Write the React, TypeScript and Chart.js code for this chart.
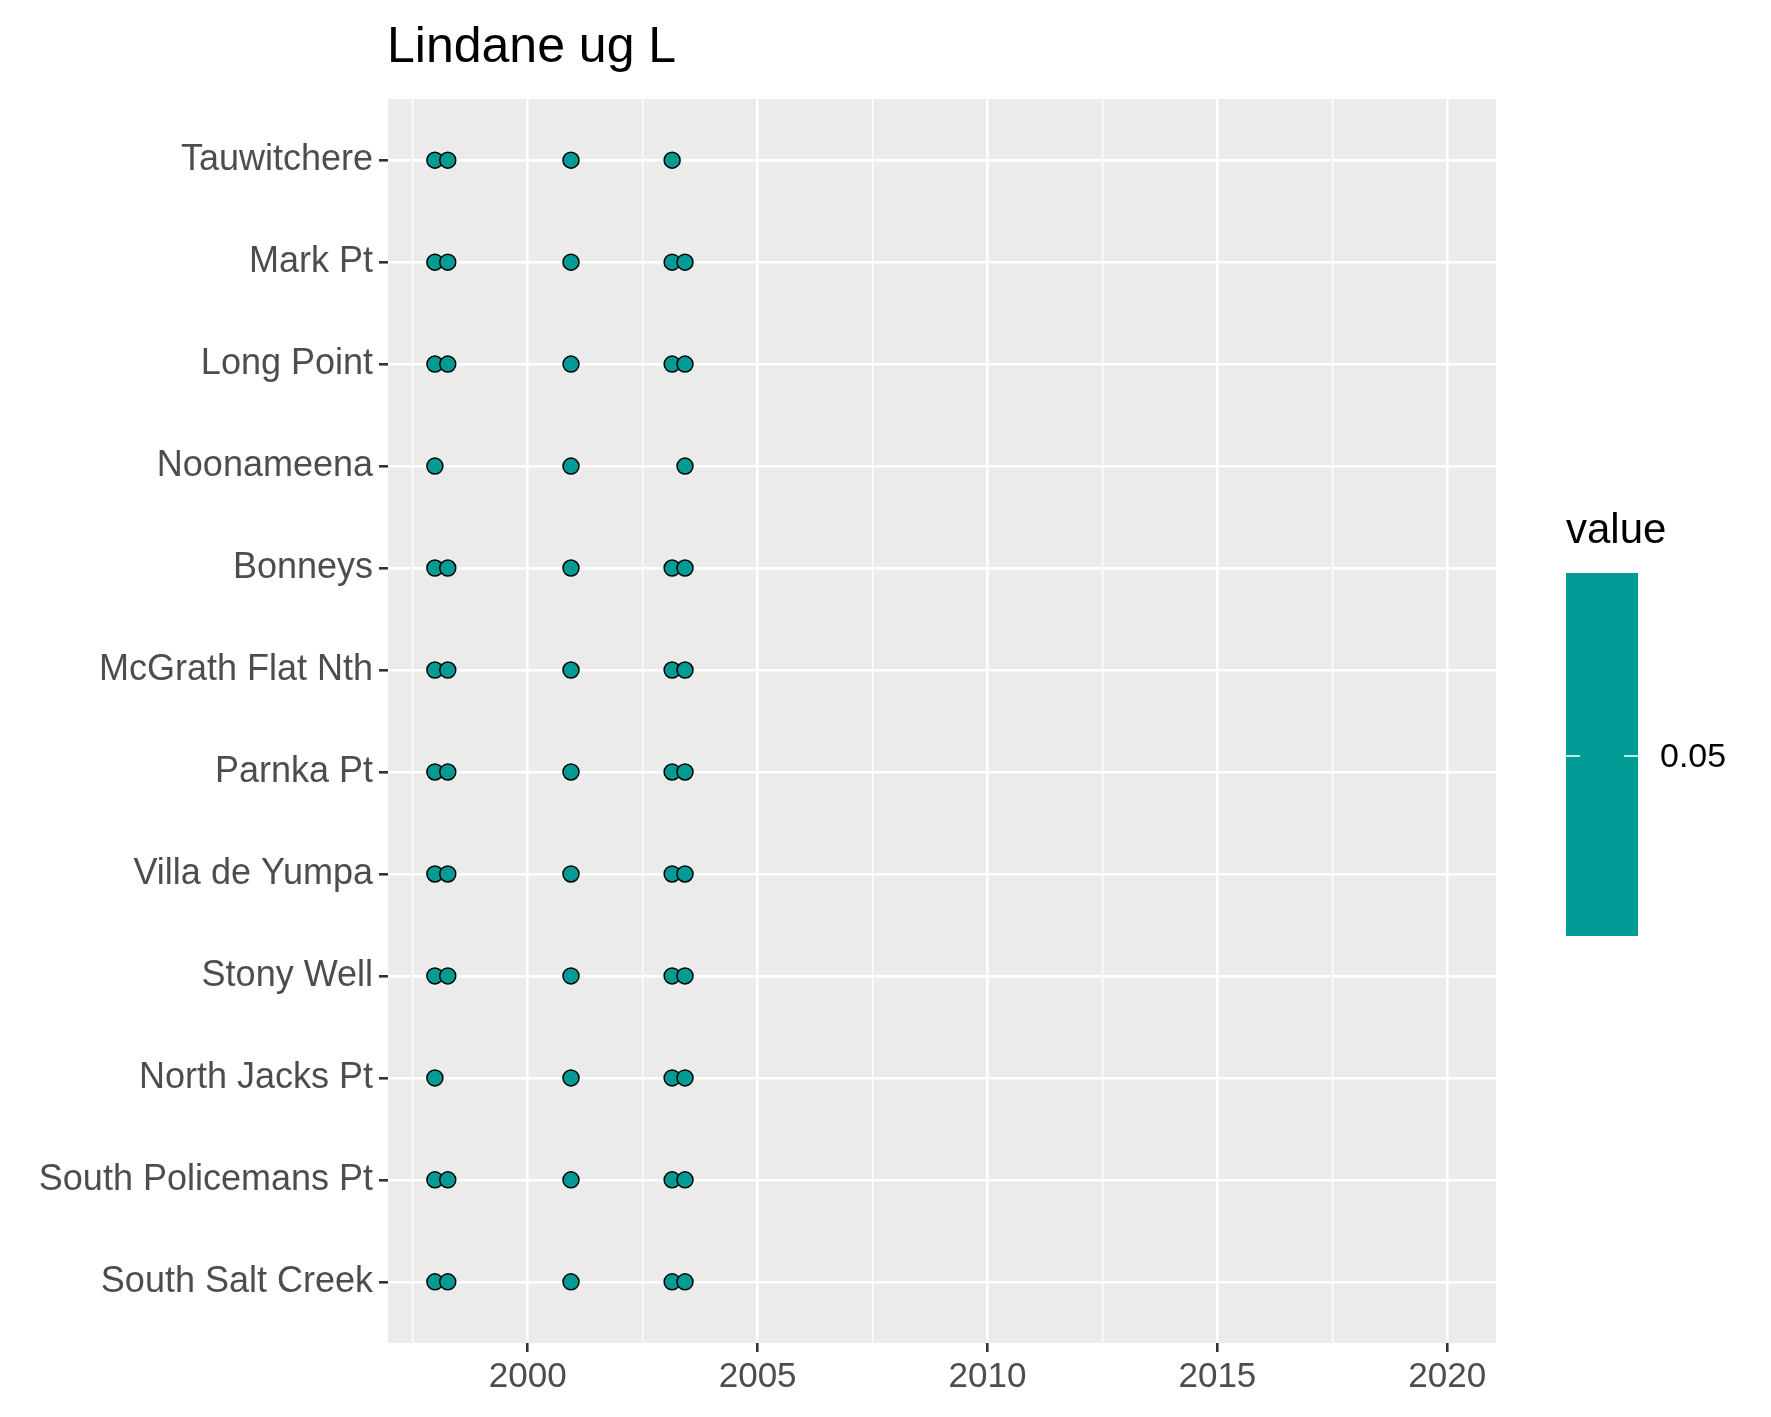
import React, { useEffect, useRef } from "react";
import { Chart, registerables } from "chart.js";
Chart.register(...registerables);

const sites = ["South Salt Creek", "South Policemans Pt", "North Jacks Pt", "Stony Well", "Villa de Yumpa", "Parnka Pt", "McGrath Flat Nth", "Bonneys", "Noonameena", "Long Point", "Mark Pt", "Tauwitchere"];
const allDates = [1997.98, 1998.26, 2000.94, 2003.14, 2003.42];
const siteDates: number[][] = [
  allDates, allDates,
  [1997.98, 2000.94, 2003.14, 2003.42],
  allDates, allDates, allDates, allDates, allDates,
  [1997.98, 2000.94, 2003.42],
  allDates, allDates,
  [1997.98, 1998.26, 2000.94, 2003.14],
];
const xTicks = [2000, 2005, 2010, 2015, 2020];
const legendLabel = "0.05";
const fillColor = "#009B95";

export default function App() {
  const ref = useRef<HTMLCanvasElement>(null);
  useEffect(() => {
    const pts: { x: number; y: number }[] = [];
    siteDates.forEach((ds, i) => ds.forEach((d) => pts.push({ x: d, y: i + 1 })));
    const deco = {
      id: "deco",
      beforeDraw(c: any) {
        const { ctx, chartArea: a } = c;
        ctx.save();
        ctx.fillStyle = "#ebebeb";
        ctx.fillRect(a.left, a.top, a.right - a.left, a.bottom - a.top);
        ctx.restore();
      },
      afterDraw(c: any) {
        const ctx = c.ctx;
        ctx.save();
        ctx.fillStyle = "#000";
        ctx.textBaseline = "middle";
        ctx.font = "50px Arial, 'Liberation Sans'";
        ctx.fillText("Lindane ug L", 387, 48);
        ctx.font = "42px Arial, 'Liberation Sans'";
        ctx.fillText("value", 1566, 531);
        ctx.fillStyle = fillColor;
        ctx.fillRect(1566, 573, 72, 363);
        ctx.strokeStyle = "#fff";
        ctx.lineWidth = 1.5;
        ctx.beginPath();
        ctx.moveTo(1566, 756); ctx.lineTo(1580, 756);
        ctx.moveTo(1624, 756); ctx.lineTo(1638, 756);
        ctx.stroke();
        ctx.fillStyle = "#000";
        ctx.font = "34px Arial, 'Liberation Sans'";
        ctx.fillText(legendLabel, 1660, 758);
        ctx.restore();
      },
    };
    const chart = new Chart(ref.current!, {
      type: "scatter",
      data: { datasets: [{ data: pts, backgroundColor: fillColor, borderColor: "#000", borderWidth: 1.5, pointRadius: 8 }] },
      options: {
        animation: false,
        responsive: false,
        layout: { padding: { top: 99, right: 275, left: 0, bottom: 0 } },
        plugins: { legend: { display: false }, tooltip: { enabled: false } },
        scales: {
          x: {
            type: "linear", min: 1996.96, max: 2021.06,
            afterBuildTicks: (s: any) => { const t = []; for (let v = 1997.5; v <= 2021; v += 2.5) t.push({ value: v }); s.ticks = t; },
            afterFit: (s: any) => { s.height = 74; },
            ticks: { callback: (v: any) => (xTicks.includes(Number(v)) ? String(v) : ""), color: "#4d4d4d", font: { size: 35, family: "Arial, 'Liberation Sans'" }, padding: 4, maxRotation: 0, autoSkip: false },
            grid: { color: "#fff", lineWidth: (c: any) => (c.tick && xTicks.includes(c.tick.value) ? 2.6 : 1.3), tickColor: (c: any) => (c.tick && xTicks.includes(c.tick.value) ? "#333" : "rgba(0,0,0,0)"), tickLength: 9, drawTicks: true },
            border: { display: false },
          },
          y: {
            type: "linear", min: 0.4, max: 12.6,
            afterBuildTicks: (s: any) => { s.ticks = sites.map((_, i) => ({ value: i + 1 })); },
            afterFit: (s: any) => { s.width = 388; },
            ticks: { callback: (v: any) => sites[Number(v) - 1] ?? "", color: "#4d4d4d", font: { size: 36, family: "Arial, 'Liberation Sans'" }, padding: 6, autoSkip: false },
            grid: { color: "#fff", lineWidth: 2.6, tickColor: "#333", tickLength: 9 },
            border: { display: false },
          },
        },
      },
      plugins: [deco],
    } as any);
    return () => chart.destroy();
  }, []);
  return (
    <div style={{ position: "absolute", left: 0, top: 0, width: 1771, height: 1417, background: "#fff" }}>
      <canvas ref={ref} width={1771} height={1417} style={{ width: 1771, height: 1417 }} />
    </div>
  );
}
